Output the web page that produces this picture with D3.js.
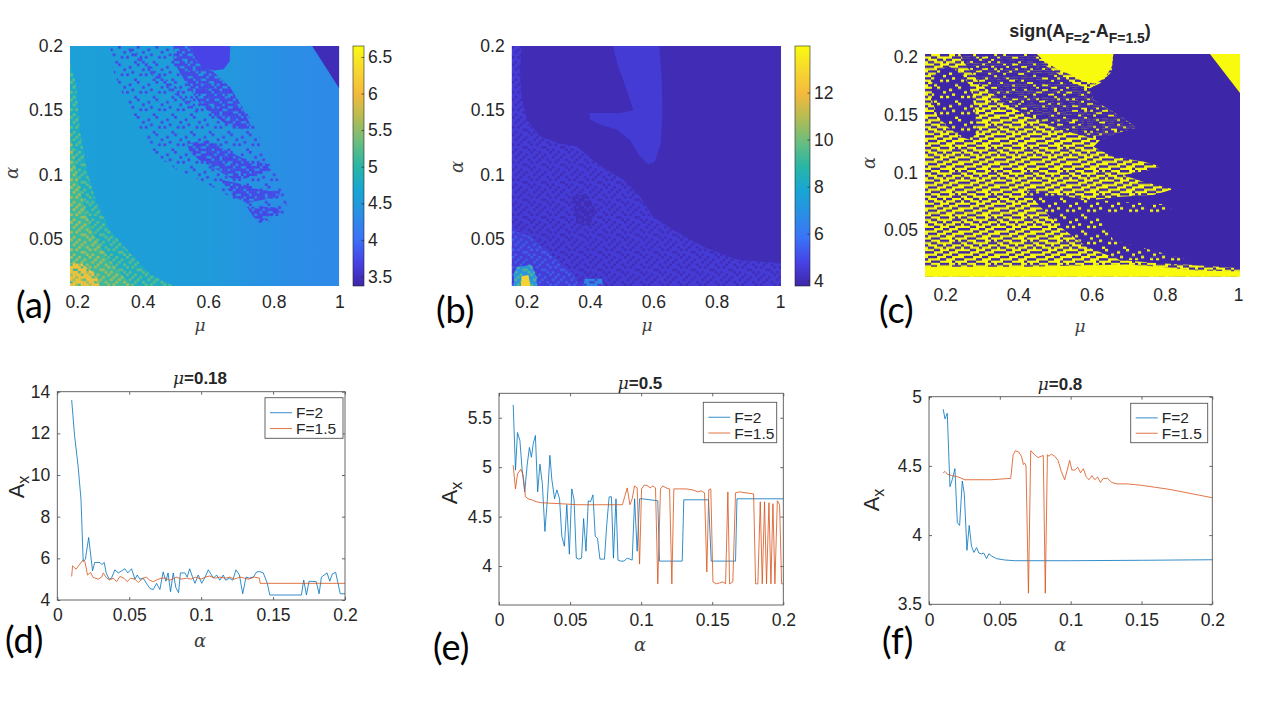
<!DOCTYPE html>
<html>
<head>
<meta charset="utf-8">
<script src="https://cdn.jsdelivr.net/npm/d3@7"></script>
<style>
  body { margin: 0; background: #fff; }
  svg { display: block; font-family: "Liberation Sans", Arial, sans-serif; }
</style>
</head>
<body>
<svg id="fig" width="1280" height="720"></svg>
<script>
// parula-like colour map, low -> high
const parulaColors = ["#3e26a8", "#4743e6", "#3a73f8", "#2a8fe4", "#17a6d3", "#2ab6a5", "#6abd7f", "#b4bc53", "#f3ba3c", "#f7d730", "#f9fb0e"];

// ---------- map (a): A_x over (mu, alpha) ----------
const aMuDomain = [0.178, 1.0];
const aAlphaDomain = [0.0134, 0.2];
const aColorDomain = [3.37, 6.65];
const aCbTicks = [3.5, 4, 4.5, 5, 5.5, 6, 6.5];
const aBaseMu = [0.178, 0.45, 0.6, 0.75, 0.9, 1.0];
const aBaseVal = [4.58, 4.57, 4.52, 4.4, 4.32, 4.3];
// region outlines, [mu, alpha]
const aGreen = [[0.178,0.187],[0.196,0.171],[0.208,0.135],[0.229,0.104],[0.259,0.078],[0.300,0.057],[0.361,0.039],[0.422,0.023],[0.494,0.0134],[0.178,0.0134]];
const aGreen2 = [[0.178,0.135],[0.193,0.109],[0.213,0.083],[0.244,0.057],[0.290,0.036],[0.341,0.021],[0.371,0.0134],[0.178,0.0134]];
const aYellow = [[0.178,0.031],[0.213,0.031],[0.259,0.022],[0.269,0.0134],[0.178,0.0134]];
const aCorner = [[0.917,0.2],[1.0,0.2],[1.0,0.167]];
const aBlob = [[0.550,0.2],[0.667,0.2],[0.665,0.188],[0.647,0.182],[0.616,0.181],[0.580,0.184],[0.560,0.190]];
const aSparse = [[0.300,0.2],[0.494,0.2],[0.534,0.181],[0.626,0.168],[0.718,0.148],[0.748,0.135],[0.779,0.114],[0.810,0.098],[0.840,0.085],[0.840,0.073],[0.810,0.062],[0.769,0.065],[0.697,0.078],[0.596,0.093],[0.504,0.104],[0.443,0.114],[0.392,0.135],[0.341,0.161],[0.310,0.181]];
const aDense1 = [[0.494,0.2],[0.550,0.2],[0.565,0.188],[0.616,0.180],[0.667,0.168],[0.703,0.153],[0.733,0.136],[0.697,0.135],[0.657,0.139],[0.616,0.146],[0.575,0.155],[0.545,0.166],[0.514,0.179],[0.494,0.189]];
const aDense2 = [[0.534,0.124],[0.596,0.127],[0.657,0.119],[0.718,0.111],[0.789,0.108],[0.779,0.102],[0.728,0.098],[0.677,0.096],[0.626,0.104],[0.575,0.111],[0.545,0.117]];
const aDense3 = [[0.636,0.096],[0.697,0.093],[0.759,0.088],[0.820,0.087],[0.815,0.083],[0.759,0.080],[0.718,0.078],[0.677,0.083]];
const aDense4 = [[0.718,0.075],[0.769,0.075],[0.830,0.074],[0.820,0.071],[0.779,0.067],[0.759,0.062],[0.738,0.067]];
const aStripe = [[0.351,0.198],[0.371,0.198],[0.443,0.180],[0.534,0.162],[0.575,0.150],[0.563,0.148],[0.524,0.157],[0.432,0.176]];

// ---------- map (b) ----------
const bMuDomain = [0.153, 1.003];
const bAlphaDomain = [0.0134, 0.2];
const bColorDomain = [3.77, 13.98];
const bCbTicks = [4, 6, 8, 10, 12];
const bBaseVal = 3.98;
const bLight = [[0.153,0.2],[0.184,0.2],[0.179,0.181],[0.184,0.161],[0.2,0.143],[0.242,0.130],[0.305,0.124],[0.358,0.122],[0.411,0.111],[0.453,0.104],[0.505,0.096],[0.558,0.083],[0.6,0.067],[0.663,0.057],[0.758,0.044],[0.863,0.034],[1.003,0.031],[1.003,0.0134],[0.153,0.0134]];
const bTongue = [[0.472,0.2],[0.619,0.2],[0.627,0.174],[0.629,0.145],[0.623,0.124],[0.605,0.110],[0.584,0.108],[0.558,0.114],[0.526,0.127],[0.484,0.135],[0.432,0.139],[0.400,0.143],[0.398,0.148],[0.437,0.148],[0.495,0.148],[0.537,0.150],[0.516,0.166],[0.489,0.184]];
const bLight2 = [[0.153,0.057],[0.211,0.052],[0.284,0.036],[0.347,0.023],[0.368,0.0134],[0.153,0.0134]];
const bDarkSpot = [[0.342,0.083],[0.389,0.085],[0.416,0.073],[0.400,0.060],[0.358,0.062]];
const bGreen = [[0.168,0.028],[0.215,0.030],[0.232,0.020],[0.232,0.0134],[0.160,0.0134],[0.160,0.022]];
const bYellow = [[0.184,0.021],[0.206,0.022],[0.212,0.0134],[0.182,0.0134]];
const bCyan = [[0.384,0.019],[0.437,0.019],[0.442,0.0134],[0.379,0.0134]];

// ---------- map (c): sign(A_F=2 - A_F=1.5) ----------
const cMuDomain = [0.145, 1.005];
const cAlphaDomain = [0.0094, 0.2029];
const cMixedUpper = [[0.241,0.2029],[0.459,0.2029],[0.477,0.192],[0.55,0.177],[0.595,0.173],[0.605,0.163],[0.65,0.154],[0.686,0.147],[0.723,0.139],[0.668,0.134],[0.623,0.128],[0.514,0.137],[0.423,0.149],[0.35,0.163],[0.295,0.177],[0.259,0.192]];
const cLobe = [[0.164,0.177],[0.177,0.188],[0.209,0.192],[0.241,0.188],[0.268,0.175],[0.282,0.154],[0.286,0.137],[0.273,0.128],[0.241,0.131],[0.206,0.140],[0.179,0.149],[0.164,0.163]];
const cRight = [[0.659,0.2029],[0.655,0.1875],[0.623,0.1774],[0.595,0.1731],[0.605,0.1629],[0.650,0.1542],[0.686,0.147],[0.723,0.1389],[0.668,0.134],[0.623,0.1282],[0.605,0.1224],[0.659,0.1137],[0.741,0.1094],[0.791,0.105],[0.741,0.1007],[0.686,0.0978],[0.741,0.092],[0.823,0.0853],[0.768,0.0804],[0.677,0.0789],[0.605,0.076],[0.532,0.0789],[0.459,0.0833],[0.423,0.0847],[0.459,0.0703],[0.514,0.0529],[0.586,0.0355],[0.677,0.0239],[0.786,0.021],[0.877,0.0196],[1.005,0.0167],[1.005,0.2029]];
const cTopBlob = [[0.450,0.2029],[0.659,0.2029],[0.655,0.192],[0.636,0.182],[0.609,0.177],[0.577,0.179],[0.541,0.185],[0.505,0.190],[0.473,0.196]];
const cCorner = [[0.923,0.2029],[1.005,0.2029],[1.005,0.169]];
const cBottom = [[0.145,0.018],[0.423,0.018],[0.695,0.020],[0.786,0.018],[0.877,0.015],[1.005,0.014],[1.005,0.0094],[0.145,0.0094]];
const cSpeckLow = [[0.423,0.085],[0.605,0.076],[0.823,0.072],[0.814,0.065],[0.623,0.065],[0.659,0.041],[0.877,0.023],[0.677,0.024],[0.586,0.036],[0.514,0.053],[0.459,0.070]];

// ---------- line panels ----------
const alphaTicks = [0, 0.05, 0.1, 0.15, 0.2];

const dAlphaF2 = [0.010,0.012,0.0145,0.0165,0.018,0.0195,0.0218,0.0245,0.026,0.0296,0.031,0.0326,0.034,0.036,0.0377,0.04,0.0424,0.0447,0.047,0.049,0.0516,0.054,0.0556,0.0574,0.0597,0.062,0.0644,0.0667,0.069,0.0713,0.0736,0.0755,0.077,0.0787,0.0806,0.0824,0.0843,0.0856,0.0887,0.0903,0.092,0.094,0.0957,0.098,0.1004,0.1027,0.105,0.1085,0.1108,0.113,0.1154,0.117,0.1196,0.122,0.1242,0.1266,0.1289,0.1312,0.1335,0.1363,0.1386,0.1408,0.1432,0.146,0.1477,0.1697,0.1713,0.1732,0.175,0.18,0.182,0.1836,0.1875,0.1894,0.1912,0.1935,0.1967,0.2];
const dAxF2 = [13.6,11.9,10.4,8.8,5.85,5.95,7.0,5.4,5.8,5.8,5.7,5.8,5.3,5.0,5.05,5.45,5.3,5.4,5.5,5.3,5.5,5.0,5.2,5.0,5.05,4.8,4.55,4.5,4.8,4.5,5.35,4.9,5.3,4.4,5.3,4.6,4.35,5.3,5.3,5.1,5.5,5.1,4.8,5.2,4.8,5.1,5.45,5.05,5.2,4.95,5.2,4.95,5.05,4.95,5.45,5.2,4.3,5.1,5.05,5.1,5.35,5.36,5.3,4.8,4.24,4.24,4.96,4.24,4.9,4.88,4.3,5.1,5.3,4.9,5.25,5.33,4.3,4.3];
const dAlphaF15 = [0.010,0.0106,0.013,0.0153,0.018,0.0192,0.021,0.0231,0.025,0.0285,0.0308,0.032,0.0343,0.0366,0.0389,0.0412,0.0435,0.0463,0.0486,0.0509,0.054,0.0563,0.0597,0.062,0.0639,0.0667,0.069,0.072,0.075,0.078,0.08,0.083,0.086,0.09,0.093,0.096,0.1,0.103,0.106,0.11,0.113,0.117,0.12,0.123,0.127,0.13,0.133,0.137,0.1405,0.141,0.2];
const dAxF15 = [5.13,5.64,5.48,5.69,5.93,5.85,5.2,5.32,5.08,5.0,5.1,5.3,5.05,4.96,5.05,4.88,5.13,5.05,4.88,5.05,5.0,4.84,5.05,5.1,4.96,4.88,4.96,5.05,5.05,4.95,5.0,5.1,5.0,5.05,5.0,5.1,5.0,5.1,5.15,5.05,5.1,5.05,5.1,5.0,5.1,5.05,5.0,5.1,5.05,4.8,4.8];

const eAlphaF2 = [0.01,0.0116,0.013,0.0147,0.0163,0.0181,0.0198,0.0214,0.0228,0.024,0.0256,0.0272,0.0288,0.0305,0.0323,0.034,0.0358,0.0372,0.0391,0.0407,0.0426,0.0442,0.046,0.0477,0.0495,0.0512,0.0528,0.0544,0.056,0.0581,0.0595,0.0612,0.0628,0.0644,0.0661,0.0677,0.0693,0.071,0.0726,0.0742,0.0758,0.0775,0.0791,0.0805,0.0823,0.0837,0.0856,0.0879,0.0902,0.0919,0.0937,0.0954,0.0972,0.0989,0.1007,0.1117,0.1129,0.1289,0.13,0.1474,0.1493,0.1664,0.1674,0.2];
const eAxF2 = [5.63,4.97,5.35,5.27,4.97,4.75,5.02,5.2,5.1,5.23,5.32,4.75,5.03,4.83,4.35,4.67,5.12,4.87,4.68,4.77,4.68,4.3,4.2,4.62,4.12,4.78,4.67,4.08,4.07,4.08,4.48,4.15,4.66,4.65,4.72,4.3,4.28,4.07,4.07,4.07,4.42,4.7,4.7,4.08,4.68,4.06,4.05,4.05,4.08,4.07,4.06,4.68,4.15,4.68,4.68,4.66,4.05,4.05,4.67,4.67,4.05,4.05,4.68,4.68];
const eAlphaF15 = [0.01,0.0116,0.013,0.0153,0.017,0.0186,0.0205,0.0228,0.0263,0.0298,0.0437,0.0554,0.0868,0.0884,0.0902,0.0921,0.0937,0.0953,0.0972,0.0989,0.1003,0.1023,0.1047,0.1063,0.1082,0.1101,0.1117,0.1136,0.1153,0.1176,0.12,0.1216,0.123,0.127,0.1317,0.1364,0.1399,0.1422,0.1446,0.1462,0.1476,0.149,0.1505,0.1528,0.1552,0.1575,0.1594,0.161,0.1622,0.1645,0.1664,0.1692,0.1739,0.1791,0.1805,0.1821,0.1838,0.1852,0.1868,0.1882,0.1899,0.1913,0.1927,0.1941,0.1958,0.1974,0.1988,0.2];
const eAxF15 = [5.02,4.78,4.93,4.98,4.92,4.7,4.68,4.67,4.65,4.64,4.63,4.62,4.62,4.7,4.79,4.62,4.68,4.81,4.79,4.02,4.78,4.82,4.81,4.79,4.81,4.79,3.82,4.78,4.81,4.79,4.78,3.82,4.78,4.78,4.78,4.77,4.75,4.76,4.74,3.94,4.77,4.78,3.84,3.82,3.83,3.84,3.82,4.75,3.82,3.84,4.74,4.75,4.74,4.73,3.82,3.82,4.65,3.82,4.65,3.82,4.64,3.82,4.63,3.82,4.66,4.62,3.82,3.82];

const fAlphaF2 = [0.01,0.0113,0.0129,0.0148,0.0164,0.0183,0.02,0.0216,0.0235,0.0249,0.0268,0.0284,0.03,0.0317,0.0336,0.0352,0.0371,0.0387,0.0406,0.0422,0.0441,0.0476,0.0535,0.0606,0.1,0.15,0.2];
const fAxF2 = [4.91,4.84,4.88,4.35,4.4,4.48,4.09,4.07,4.39,4.3,3.89,4.07,3.92,3.875,3.91,3.87,3.865,3.87,3.83,3.865,3.85,3.83,3.82,3.815,3.815,3.818,3.822];
const fAlphaF15 = [0.01,0.0113,0.013,0.016,0.0207,0.0253,0.0324,0.0441,0.0577,0.0594,0.061,0.0634,0.0652,0.0667,0.0676,0.0685,0.0702,0.0718,0.0746,0.077,0.0793,0.0807,0.0821,0.0836,0.0847,0.0864,0.0887,0.0911,0.0934,0.0958,0.0976,0.0993,0.1009,0.103,0.105,0.107,0.109,0.111,0.113,0.115,0.117,0.119,0.121,0.123,0.126,0.129,0.133,0.14,0.145,0.15,0.16,0.17,0.18,0.19,0.2];
const fAxF15 = [4.45,4.46,4.44,4.43,4.42,4.4,4.4,4.4,4.41,4.58,4.61,4.6,4.57,4.51,4.52,4.5,3.58,4.61,4.58,4.56,4.57,4.575,3.58,4.58,4.57,4.585,4.57,4.54,4.46,4.4,4.47,4.54,4.47,4.47,4.49,4.45,4.48,4.42,4.4,4.43,4.4,4.42,4.38,4.41,4.41,4.38,4.37,4.37,4.365,4.36,4.345,4.33,4.31,4.29,4.27];

const seriesNames = ["F=2", "F=1.5"];
const seriesColors = ["#0072bd", "#d95319"];

// speckle tiles (texture only)
const maskDense = ["1110110111","0111011010","1101111100","1011001111","0111110110","1100111011","0110101110","1111011001","1001110111"];
const maskMid = ["1001000","0010010","0100100","0001001","1010000","0000110","0100001"];
const maskSparse = ["0000100","0100000","0000001","0010000","1000010","0000000","0001000"];
const maskDash = ["110001110010","001100000111","100011011000","011000100011","000110001100","111000110001","000011000110","011100011000","100001100011","001110000100"];

const svg = d3.select("#fig");
const defs = svg.append("defs");
const ink = "#262626";
const fmt = d3.format("~g");
const tickFont = 17.5;

const parula = d3.scaleLinear()
  .domain(parulaColors.map((c, i) => i / (parulaColors.length - 1)))
  .range(parulaColors)
  .interpolate(d3.interpolateRgb)
  .clamp(true);

function colorScale(dom) {
  const t = d3.scaleLinear().domain(dom).range([0, 1]).clamp(true);
  return v => parula(t(v));
}

let uid = 0;
function pattern(mask, color, cw, ch, ox, oy) {
  const id = "pat" + (uid++);
  const p = defs.append("pattern").attr("id", id)
    .attr("patternUnits", "userSpaceOnUse")
    .attr("x", ox).attr("y", oy)
    .attr("width", mask[0].length * cw).attr("height", mask.length * ch);
  mask.forEach((row, r) => row.split("").forEach((c, k) => {
    if (c === "1") p.append("rect").attr("x", k * cw).attr("y", r * ch)
      .attr("width", cw + 0.1).attr("height", ch + 0.1).attr("fill", color);
  }));
  return "url(#" + id + ")";
}

function styleTicks(sel) {
  sel.select(".domain").remove();
  sel.selectAll(".tick line").attr("stroke", ink).attr("stroke-width", 0.7);
  sel.selectAll(".tick text").attr("fill", ink).attr("font-size", tickFont)
    .attr("font-family", '"Liberation Sans", Arial, sans-serif');
}

function greekLabel(g, txt, x, y, rotate, size) {
  const t = g.append("text").attr("text-anchor", "middle")
    .attr("font-family", '"DejaVu Serif", serif').attr("font-style", "italic")
    .attr("font-size", size || 17).attr("fill", "#404040").text(txt);
  if (rotate) t.attr("transform", `translate(${x},${y}) rotate(-90)`);
  else t.attr("x", x).attr("y", y);
}

function panelLetter(txt, x, y) {
  svg.append("text").attr("x", x).attr("y", y)
    .attr("font-family", "Lato, 'Open Sans', sans-serif").attr("font-size", 36)
    .attr("fill", "#000").text(txt);
}

// ---------- heat map panels ----------
function drawMap(o) {
  const x = d3.scaleLinear().domain(o.mu).range([o.x0, o.x1]);
  const y = d3.scaleLinear().domain(o.alpha).range([o.y1, o.y0]);
  const g = svg.append("g");
  const clipId = "clip" + (uid++);
  defs.append("clipPath").attr("id", clipId).append("rect")
    .attr("x", o.x0).attr("y", o.y0).attr("width", o.x1 - o.x0).attr("height", o.y1 - o.y0);
  const body = g.append("g").attr("clip-path", `url(#${clipId})`);
  body.append("rect").attr("x", o.x0).attr("y", o.y0)
    .attr("width", o.x1 - o.x0).attr("height", o.y1 - o.y0).attr("fill", o.base(x));
  const path = d3.line().x(d => x(d[0])).y(d => y(d[1])).curve(d3.curveLinearClosed);
  o.regions.forEach(r => {
    const fill = r.mask ? pattern(r.mask, r.color, o.cw, o.ch, o.x0, o.y0) : r.color;
    body.append("path").attr("d", path(r.pts)).attr("fill", fill);
  });

  g.append("g").attr("transform", `translate(0,${o.y1})`)
    .call(d3.axisBottom(x).tickValues(o.xTicks).tickSize(0).tickPadding(o.xPad).tickFormat(fmt))
    .call(styleTicks);
  g.append("g").attr("transform", `translate(${o.x0},0)`)
    .call(d3.axisLeft(y).tickValues([0.05, 0.1, 0.15, 0.2]).tickSize(0).tickPadding(7).tickFormat(fmt))
    .call(styleTicks);
  greekLabel(g, "\u03bc", o.muLabel[0], o.muLabel[1], false, 17);
  greekLabel(g, "\u03b1", o.alLabel[0], o.alLabel[1], true, 18);

  if (o.cb) {
    const cb = o.cb;
    const cy = d3.scaleLinear().domain(cb.domain).range([o.y1, o.y0]);
    const gid = "grad" + (uid++);
    const grad = defs.append("linearGradient").attr("id", gid)
      .attr("x1", 0).attr("y1", 1).attr("x2", 0).attr("y2", 0);
    d3.range(0, 1.0001, 0.02).forEach(t => grad.append("stop")
      .attr("offset", t).attr("stop-color", parula(t)));
    g.append("rect").attr("x", cb.x0).attr("y", o.y0).attr("width", cb.x1 - cb.x0)
      .attr("height", o.y1 - o.y0).attr("fill", `url(#${gid})`)
      .attr("stroke", ink).attr("stroke-width", 0.6);
    g.append("g").attr("transform", `translate(${cb.x1},0)`)
      .call(d3.axisRight(cy).tickValues(cb.ticks).tickSizeInner(-2.5).tickSizeOuter(0).tickPadding(4).tickFormat(fmt))
      .call(styleTicks);
  }
}

const ca = colorScale(aColorDomain);
drawMap({
  mu: aMuDomain, alpha: aAlphaDomain, x0: 70, x1: 339.3, y0: 46, y1: 286,
  cw: 2.67, ch: 2.5, xTicks: [0.2, 0.4, 0.6, 0.8, 1], xPad: 10,
  muLabel: [200, 331], alLabel: [18, 173],
  base: x => {
    const gid = "agrad";
    const grad = defs.append("linearGradient").attr("id", gid)
      .attr("gradientUnits", "userSpaceOnUse")
      .attr("x1", x(aMuDomain[0])).attr("x2", x(aMuDomain[1])).attr("y1", 0).attr("y2", 0);
    aBaseMu.forEach((m, i) => grad.append("stop")
      .attr("offset", (m - aMuDomain[0]) / (aMuDomain[1] - aMuDomain[0]))
      .attr("stop-color", ca(aBaseVal[i])));
    return `url(#${gid})`;
  },
  regions: [
    { pts: aGreen, color: ca(4.8) },
    { pts: aGreen, color: ca(5.3), mask: maskMid },
    { pts: aGreen2, color: ca(5.1) },
    { pts: aGreen2, color: ca(5.6), mask: maskMid },
    { pts: aYellow, color: ca(6.1), mask: maskDense },
    { pts: aSparse, color: ca(3.7), mask: maskSparse },
    { pts: aStripe, color: ca(3.7), mask: maskMid },
    { pts: aDense1, color: ca(3.7), mask: maskDense },
    { pts: aDense2, color: ca(3.7), mask: maskDense },
    { pts: aDense3, color: ca(3.7), mask: maskDense },
    { pts: aDense4, color: ca(3.7), mask: maskDense },
    { pts: aBlob, color: ca(3.7) },
    { pts: aCorner, color: ca(3.45) }
  ],
  cb: { x0: 353, x1: 364, domain: aColorDomain, ticks: aCbTicks }
});

const cbs = colorScale(bColorDomain);
drawMap({
  mu: bMuDomain, alpha: bAlphaDomain, x0: 511.7, x1: 781, y0: 46, y1: 286,
  cw: 2.67, ch: 2.5, xTicks: [0.2, 0.4, 0.6, 0.8, 1], xPad: 10,
  muLabel: [647, 331], alLabel: [463, 167],
  base: () => cbs(bBaseVal),
  regions: [
    { pts: bLight, color: cbs(4.55) },
    { pts: bLight, color: cbs(bBaseVal), mask: maskMid },
    { pts: bTongue, color: cbs(4.5) },
    { pts: bLight2, color: cbs(5.4), mask: maskMid },
    { pts: bDarkSpot, color: cbs(bBaseVal), mask: maskDense },
    { pts: bCyan, color: cbs(6.8), mask: maskDense },
    { pts: bGreen, color: cbs(7.0) },
    { pts: bGreen, color: cbs(9.5), mask: maskMid },
    { pts: bYellow, color: cbs(12.8) }
  ],
  cb: { x0: 795, x1: 810, domain: bColorDomain, ticks: bCbTicks }
});

const signBlue = parula(0), signYellow = parula(1);
drawMap({
  mu: cMuDomain, alpha: cAlphaDomain, x0: 925, x1: 1240, y0: 54, y1: 276.7,
  cw: 3.0, ch: 2.32, xTicks: [0.2, 0.4, 0.6, 0.8, 1], xPad: 12,
  muLabel: [1080, 332], alLabel: [875, 163],
  base: () => signYellow,
  regions: [
    { pts: [[cMuDomain[0], cAlphaDomain[1]], [cMuDomain[1], cAlphaDomain[1]], [cMuDomain[1], cAlphaDomain[0]], [cMuDomain[0], cAlphaDomain[0]]], color: signBlue, mask: maskDash },
    { pts: cMixedUpper, color: signBlue, mask: maskDense },
    { pts: cLobe, color: signBlue },
    { pts: cLobe, color: signYellow, mask: maskSparse },
    { pts: cRight, color: signBlue },
    { pts: cSpeckLow, color: signYellow, mask: maskSparse },
    { pts: cTopBlob, color: signYellow },
    { pts: cCorner, color: signYellow },
    { pts: cBottom, color: signYellow }
  ]
});

// title of (c)
const tc = svg.append("text").attr("x", 1080).attr("y", 37).attr("text-anchor", "middle")
  .attr("font-weight", "bold").attr("font-size", 18).attr("fill", ink);
tc.append("tspan").text("sign(A");
tc.append("tspan").attr("font-size", 14).attr("dy", 6).text("F=2");
tc.append("tspan").attr("dy", -6).text("-A");
tc.append("tspan").attr("font-size", 14).attr("dy", 6).text("F=1.5");
tc.append("tspan").attr("dy", -6).text(")");

// ---------- line panels ----------
function drawLines(o) {
  const x = d3.scaleLinear().domain([0, 0.2]).range([o.x0, o.x1]);
  const y = d3.scaleLinear().domain(o.yDomain).range([o.y1, o.y0]);
  const g = svg.append("g");
  g.append("rect").attr("x", o.x0).attr("y", o.y0).attr("width", o.x1 - o.x0)
    .attr("height", o.y1 - o.y0).attr("fill", "#fff");

  g.append("g").attr("transform", `translate(0,${o.y1})`)
    .call(d3.axisBottom(x).tickValues(alphaTicks).tickSizeInner(-3).tickSizeOuter(0).tickPadding(9).tickFormat(fmt))
    .call(styleTicks);
  g.append("g").attr("transform", `translate(0,${o.y0})`)
    .call(d3.axisTop(x).tickValues(alphaTicks).tickSizeInner(-3).tickSizeOuter(0).tickFormat(""))
    .call(styleTicks);
  g.append("g").attr("transform", `translate(${o.x0},0)`)
    .call(d3.axisLeft(y).tickValues(o.yTicks).tickSizeInner(-3).tickSizeOuter(0).tickPadding(7).tickFormat(fmt))
    .call(styleTicks);
  g.append("g").attr("transform", `translate(${o.x1},0)`)
    .call(d3.axisRight(y).tickValues(o.yTicks).tickSizeInner(-3).tickSizeOuter(0).tickFormat(""))
    .call(styleTicks);

  const clipId = "clip" + (uid++);
  defs.append("clipPath").attr("id", clipId).append("rect")
    .attr("x", o.x0).attr("y", o.y0).attr("width", o.x1 - o.x0).attr("height", o.y1 - o.y0);
  const line = d3.line().x(d => x(d[0])).y(d => y(d[1]));
  const series = [d3.zip(o.a2, o.v2), d3.zip(o.a15, o.v15)];
  series.forEach((s, i) => g.append("path").datum(s)
    .attr("clip-path", `url(#${clipId})`)
    .attr("d", line).attr("fill", "none")
    .attr("stroke", seriesColors[i]).attr("stroke-width", 1).attr("stroke-opacity", 0.8));

  g.append("rect").attr("x", o.x0).attr("y", o.y0).attr("width", o.x1 - o.x0)
    .attr("height", o.y1 - o.y0).attr("fill", "none").attr("stroke", "#555").attr("stroke-width", 0.9);

  // legend
  const L = o.legend;
  const lg = g.append("g");
  lg.append("rect").attr("x", L[0]).attr("y", L[1]).attr("width", L[2]).attr("height", L[3])
    .attr("fill", "#fff").attr("stroke", "#555").attr("stroke-width", 0.9);
  seriesNames.forEach((n, i) => {
    const yy = L[1] + L[3] * (i === 0 ? 0.37 : 0.76);
    lg.append("line").attr("x1", L[0] + 5).attr("x2", L[0] + 27).attr("y1", yy).attr("y2", yy)
      .attr("stroke", seriesColors[i]).attr("stroke-width", 1).attr("stroke-opacity", 0.8);
    lg.append("text").attr("x", L[0] + 31).attr("y", yy + 5.5).attr("font-size", 15.5)
      .attr("fill", ink).text(n);
  });

  // title
  const t = g.append("text").attr("x", o.title[0]).attr("y", o.title[1]).attr("text-anchor", "middle")
    .attr("font-size", 17).attr("fill", ink);
  t.append("tspan").attr("font-family", '"DejaVu Serif", serif').attr("font-style", "italic").text("\u03bc");
  t.append("tspan").attr("font-weight", "bold").text("=" + o.mu);

  greekLabel(g, "\u03b1", o.alLabel[0], o.alLabel[1], false, 18);
  const ax = g.append("text").attr("transform", `translate(${o.axLabel[0]},${o.axLabel[1]}) rotate(-90)`)
    .attr("text-anchor", "middle").attr("font-size", 22).attr("fill", ink);
  ax.append("tspan").text("A");
  ax.append("tspan").attr("font-size", 16).attr("dy", 5).text("x");
}

drawLines({
  x0: 57.3, x1: 345, y0: 391.7, y1: 600, yDomain: [4, 14], yTicks: [4, 6, 8, 10, 12, 14],
  a2: dAlphaF2, v2: dAxF2, a15: dAlphaF15, v15: dAxF15,
  legend: [265, 397.7, 78, 40.6], title: [200, 384], mu: "0.18",
  alLabel: [200, 647], axLabel: [24, 487]
});
drawLines({
  x0: 499, x1: 783.3, y0: 393.3, y1: 605, yDomain: [3.606, 5.747], yTicks: [4, 4.5, 5, 5.5],
  a2: eAlphaF2, v2: eAxF2, a15: eAlphaF15, v15: eAxF15,
  legend: [703.3, 402.3, 73.4, 40.4], title: [640, 389], mu: "0.5",
  alLabel: [640, 651], axLabel: [457, 493]
});
drawLines({
  x0: 929, x1: 1212.3, y0: 396.7, y1: 604.3, yDomain: [3.5, 5], yTicks: [3.5, 4, 4.5, 5],
  a2: fAlphaF2, v2: fAxF2, a15: fAlphaF15, v15: fAxF15,
  legend: [1130.7, 403.3, 77, 39.4], title: [1060, 390], mu: "0.8",
  alLabel: [1060, 651], axLabel: [879, 500]
});

panelLetter("(a)", 16, 318);
panelLetter("(b)", 436, 323);
panelLetter("(c)", 879, 323);
panelLetter("(d)", 5, 653);
panelLetter("(e)", 433, 660);
panelLetter("(f)", 882, 654);
</script>
</body>
</html>
